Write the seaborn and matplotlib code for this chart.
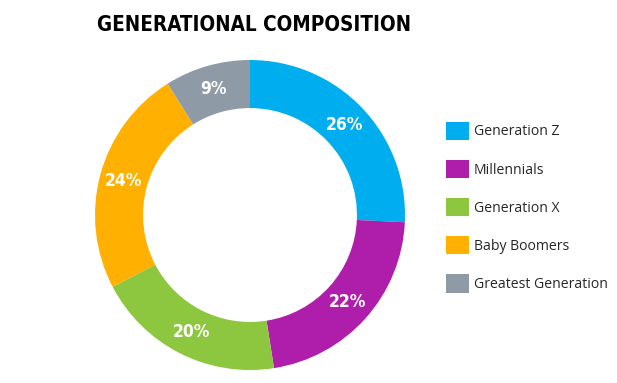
import matplotlib
matplotlib.use('Agg')
import matplotlib.pyplot as plt
import seaborn as sns
from matplotlib.patches import Patch

# generation shares (%)
generations = ['Generation Z', 'Millennials', 'Generation X', 'Baby Boomers', 'Greatest Generation']
shares = [26, 22, 20, 24, 9]
colors = ['#00AEEF', '#AF1EAB', '#8DC63F', '#FFB000', '#8E9AA6']

sns.set_theme(style='white')
plt.rcParams['font.family'] = ['Open Sans', 'DejaVu Sans']

fig = plt.figure(figsize=(6.17, 3.83), dpi=100)

# donut axes, centre ~ (250, 215) px, outer radius ~155 px
ax = fig.add_axes([95 / 617, 13 / 383, 310 / 617, 310 / 383])
wedges, texts, autotexts = ax.pie(
    shares, colors=sns.color_palette(colors), startangle=90, counterclock=False,
    radius=1.0, autopct=lambda p: '', pctdistance=0.845,
    wedgeprops=dict(width=0.31, linewidth=0))
for t, v in zip(autotexts, shares):
    t.set_text(f'{v}%')
    t.set_color('white')
    t.set_fontsize(12.5)
    t.set_fontweight('bold')
    t.set_family('DejaVu Sans')
    t.set_fontstretch('condensed')
ax.set_xlim(-1, 1)
ax.set_ylim(-1, 1)
ax.set_aspect('equal')
ax.axis('off')

fig.text(97 / 617, 1 - 25 / 383, 'GENERATIONAL COMPOSITION', ha='left', va='center',
         fontsize=14.8, fontweight='bold', family='DejaVu Sans', fontstretch='condensed',
         color='black')

handles = [Patch(facecolor=c, edgecolor='none') for c in colors]
fig.legend(handles, generations, loc='upper left', bbox_to_anchor=(440 / 617, 1 - 116 / 383),
           frameon=False, fontsize=10.1, handlelength=1.65, handleheight=1.65,
           handletextpad=0.35, labelspacing=1.4, borderaxespad=0)

fig.savefig('out.png', dpi=100)
